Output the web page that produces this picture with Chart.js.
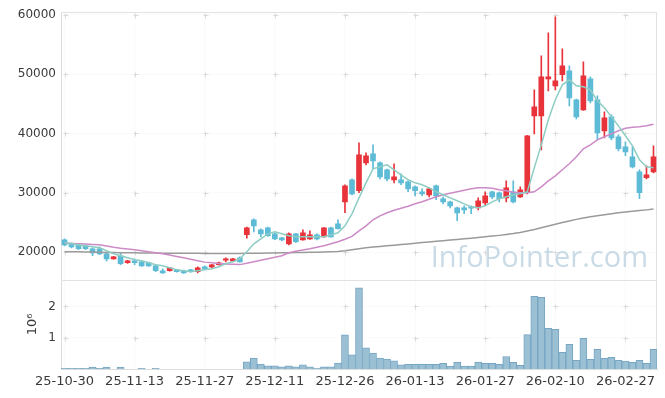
<!DOCTYPE html>
<html>
<head>
<meta charset="utf-8">
<script src="https://cdn.jsdelivr.net/npm/chart.js@4.4.1/dist/chart.umd.min.js"></script>
<style>
  html, body { margin: 0; padding: 0; background: #fff; }
  #wrap { width: 665px; height: 398px; }
</style>
</head>
<body>
<div id="wrap"><canvas id="chart" width="665" height="398"></canvas></div>
<script>
// trading days
var dates = [
  '25-10-30','25-10-31','25-11-03','25-11-04','25-11-05','25-11-06','25-11-07','25-11-10','25-11-11','25-11-12',
  '25-11-13','25-11-14','25-11-17','25-11-18','25-11-19','25-11-20','25-11-21','25-11-24','25-11-25','25-11-26',
  '25-11-27','25-11-28','25-12-01','25-12-02','25-12-03','25-12-04','25-12-05','25-12-08','25-12-09','25-12-10',
  '25-12-11','25-12-12','25-12-15','25-12-16','25-12-17','25-12-18','25-12-19','25-12-22','25-12-23','25-12-24',
  '25-12-26','25-12-29','25-12-30','26-01-02','26-01-05','26-01-06','26-01-07','26-01-08','26-01-09','26-01-12',
  '26-01-13','26-01-14','26-01-15','26-01-16','26-01-19','26-01-20','26-01-21','26-01-22','26-01-23','26-01-26',
  '26-01-27','26-01-28','26-01-29','26-01-30','26-02-02','26-02-03','26-02-04','26-02-05','26-02-06','26-02-09',
  '26-02-10','26-02-11','26-02-12','26-02-13','26-02-19','26-02-20','26-02-23','26-02-24','26-02-25','26-02-26',
  '26-02-27','26-03-03','26-03-04','26-03-05','26-03-06'
];

var open = [
  22070,21400,21230,21060,20560,20560,19710,18870,19380,18200,
  18530,18370,18200,17690,16850,16850,17010,16850,17010,16680,
  17520,17520,17860,18620,18530,19040,22920,25450,23750,24100,
  23080,22410,21400,23080,22070,22240,22920,22580,24100,24770,
  28480,32190,30340,35050,36580,35050,33870,32190,32190,31850,
  31010,30170,29660,31180,28990,28480,27460,27460,27630,27460,
  28310,30170,30000,29150,30170,29320,30000,42980,42980,49220,
  48040,49900,50570,45680,43990,49210,45680,40450,42810,39440,
  37750,36070,33540,32530,33540
];
var high = [
  22240,21570,21400,21230,20720,20890,19880,19300,19880,18600,
  18870,18530,18300,17860,17200,17450,17100,16950,17100,17520,
  17690,17950,18300,19040,18950,19200,24200,25620,23920,24200,
  23200,22500,23250,23150,23760,23590,23080,24150,24200,25450,
  31350,32360,38420,36750,38090,35220,34000,34890,33200,32000,
  31180,30670,30840,31300,29320,28600,27600,27800,27800,29150,
  30170,30300,30100,32020,32020,31010,39700,47360,53100,56970,
  59670,54280,51420,45800,52080,49560,46350,43650,43140,39780,
  38600,37750,33880,34550,37920
];
var low = [
  21060,20720,20390,20390,19380,19550,18530,18800,17860,18100,
  17860,17600,17600,16700,16400,16800,16600,16400,16600,16510,
  17100,17350,17800,18360,18450,18300,22360,23420,22580,22650,
  22100,21900,21230,21570,22000,22150,22070,22500,22500,23850,
  26630,29660,30000,34720,34040,32360,32020,31680,31350,30170,
  29490,29490,29320,28820,28140,27460,25280,26460,26460,27130,
  27970,29000,28480,28480,28300,29200,29830,39940,37250,47190,
  47360,48880,44660,42470,43900,45170,38930,39270,38930,37080,
  36240,34210,28990,32360,33370
];
var close = [
  21230,20890,20560,20560,19880,19710,18870,19210,18030,18530,
  18200,17690,17690,16850,16510,17350,16680,16510,16680,17350,
  17180,17860,18200,18850,18870,18360,24100,24430,23080,22750,
  22240,22070,23080,21740,23250,22920,22240,24100,22580,23930,
  31180,29830,36410,36240,35390,32690,32360,32700,31680,30670,
  30340,29830,30670,29490,28480,27800,26620,27130,27400,28650,
  29490,29320,28990,30840,28480,30500,39610,44500,49560,49560,
  48880,51420,46010,42810,49720,45510,40110,42640,39270,37420,
  36910,34380,30000,33030,36070
];
var volume = [
  25000,25000,25000,25000,60000,25000,60000,0,60000,0,
  0,25000,0,25000,0,0,0,0,0,0,
  0,0,0,0,0,0,230000,350000,160000,100000,
  100000,70000,100000,70000,130000,70000,30000,70000,70000,190000,
  1090000,450000,2590000,680000,510000,350000,320000,260000,130000,150000,
  150000,150000,150000,150000,180000,90000,210000,90000,90000,220000,
  180000,180000,150000,400000,210000,120000,1100000,2320000,2290000,1300000,
  1270000,530000,790000,280000,980000,310000,630000,340000,370000,280000,
  250000,210000,280000,180000,630000
];
// moving averages
var ma5 = [
  21570,21400,21230,21060,20890,20720,20220,19710,19380,19040,
  18700,18530,18200,17860,17690,17350,17010,16850,16680,16850,
  17010,17180,17520,18030,18360,18870,20050,21400,22240,23080,
  23420,23080,22750,22580,22580,22580,22580,22580,22920,23250,
  24430,26460,29150,31680,34040,34380,34720,33870,33030,32190,
  31680,31350,30840,30170,29660,29150,28650,28140,27630,27460,
  27800,28480,28990,29320,29660,29830,30170,34200,38090,42300,
  45680,48200,49050,48040,47870,47360,45510,44330,42810,41290,
  39610,37920,35560,34380,34210
];
var ma20 = [
  21520,21470,21400,21350,21280,21230,21030,20830,20660,20520,
  20390,20220,20050,19880,19710,19510,19270,19040,18790,18530,
  18310,18200,18060,17980,17940,17890,18110,18360,18620,18870,
  19120,19380,19880,20130,20340,20560,20810,21060,21400,21740,
  22160,22660,23590,24430,25450,26120,26630,27050,27380,27720,
  28140,28480,28900,29320,29660,29910,30170,30420,30670,30840,
  30840,30760,30500,30340,30080,30000,30000,30170,31010,32020,
  32860,33880,34890,36070,37420,38090,38930,39440,39940,40450,
  40870,41040,41120,41290,41550
];
var ma60 = [
  20050,20050,20050,20020,20000,19980,19950,19920,19900,19880,
  19870,19850,19840,19830,19820,19810,19800,19800,19790,19790,
  19780,19780,19780,19780,19780,19780,19790,19800,19820,19840,
  19860,19880,19900,19920,19940,19960,19990,20020,20060,20110,
  20220,20390,20560,20720,20850,20950,21060,21170,21270,21380,
  21480,21600,21700,21820,21920,22040,22140,22250,22350,22460,
  22580,22700,22820,22960,23120,23320,23550,23800,24100,24400,
  24700,24980,25250,25520,25760,25950,26130,26300,26460,26620,
  26780,26900,27010,27120,27250
];
var yTicks = [20000, 30000, 40000, 50000, 60000];
var volTicks = [1000000, 2000000];

var UP = '#e8333b';
var DOWN = '#5dbbd6';

var bodies = [], wicks = [], colors = [];
for (var i = 0; i < dates.length; i++) {
  bodies.push([open[i], close[i]]);
  wicks.push([low[i], high[i]]);
  colors.push(close[i] >= open[i] ? UP : DOWN);
}

// frame, grid crosses and watermark
var framePlugin = {
  id: 'frame',
  beforeDatasetsDraw: function (chart) {
    var ctx = chart.ctx, a = chart.chartArea, sx = chart.scales.x, sy = chart.scales.y, sv = chart.scales.yv;
    var yb = sy.bottom;
    ctx.save();
    ctx.font = '29px "Open Sans"';
    ctx.fillStyle = '#c9dbe6';
    ctx.textAlign = 'right';
    ctx.textBaseline = 'alphabetic';
    ctx.fillText('InfoPointer.com', a.right - 9, yb - 13);

    ctx.strokeStyle = '#e2e2e2';
    ctx.lineWidth = 1;
    ctx.beginPath();
    ctx.moveTo(a.left, Math.round(a.top) + 0.5);
    ctx.lineTo(a.right, Math.round(a.top) + 0.5);
    ctx.moveTo(Math.round(a.right) - 0.5, a.top);
    ctx.lineTo(Math.round(a.right) - 0.5, a.bottom);
    ctx.moveTo(a.left, Math.round(yb) + 0.5);
    ctx.lineTo(a.right, Math.round(yb) + 0.5);
    ctx.stroke();

    var ys = [];
    yTicks.forEach(function (v) { ys.push(sy.getPixelForValue(v)); });
    volTicks.forEach(function (v) { ys.push(sv.getPixelForValue(v)); });
    ctx.strokeStyle = '#dadada';
    ctx.beginPath();
    for (var k = 0; k < dates.length; k += 10) {
      var px = Math.round(sx.getPixelForValue(k)) + 0.5;
      ys.forEach(function (py) {
        py = Math.round(py) + 0.5;
        ctx.moveTo(px - 2, py); ctx.lineTo(px + 3, py);
        ctx.moveTo(px, py - 2); ctx.lineTo(px, py + 3);
      });
    }
    ctx.stroke();
    ctx.restore();
  }
};

Chart.defaults.font.family = '"DejaVu Sans", sans-serif';
Chart.defaults.color = '#3a3a3a';

var ctx = document.getElementById('chart').getContext('2d');
new Chart(ctx, {
  type: 'bar',
  data: {
    labels: dates,
    datasets: [
      { type: 'line', data: ma5, borderColor: '#8dcdc3', borderWidth: 1.5, pointRadius: 0, yAxisID: 'y', order: 0 },
      { type: 'line', data: ma20, borderColor: '#cc8ac7', borderWidth: 1.5, pointRadius: 0, yAxisID: 'y', order: 0 },
      { type: 'line', data: ma60, borderColor: '#9a9a9a', borderWidth: 1.5, pointRadius: 0, yAxisID: 'y', order: 0 },
      { data: bodies, backgroundColor: colors, barThickness: 5, minBarLength: 1, grouped: false, yAxisID: 'y', order: 1 },
      { data: wicks, backgroundColor: colors, barThickness: 1, grouped: false, yAxisID: 'y', order: 2 },
      { data: volume, backgroundColor: '#9bc0d4', borderColor: '#76a6c3', borderWidth: 1,
        barPercentage: 1, categoryPercentage: 1, grouped: false, yAxisID: 'yv', order: 3 }
    ]
  },
  options: {
    responsive: false,
    animation: false,
    layout: { padding: { top: 12, right: 8, left: 0, bottom: 0 } },
    plugins: { legend: { display: false }, tooltip: { enabled: false } },
    scales: {
      x: {
        offset: true,
        grid: { offset: false, color: 'rgba(0,0,0,0.02)', drawTicks: false },
        border: { color: '#dcdcdc' },
        ticks: {
          autoSkip: false, maxRotation: 0, padding: 5, font: { size: 13 },
          callback: function (v, i) { return i % 10 === 0 ? dates[i] : null; }
        },
        afterFit: function (s) { s.height = 29; }
      },
      yv: {
        position: 'left', stack: 'panes', stackWeight: 1,
        min: 0, max: 2850000,
        grid: { color: 'rgba(0,0,0,0.02)', drawTicks: false },
        border: { color: '#dcdcdc' },
        title: { display: true, text: '10⁶', font: { size: 13 }, padding: { top: 25, bottom: 0 } },
        ticks: {
          padding: 5, font: { size: 12 },
          callback: function (v) { return String(v / 1000000); }
        },
        afterBuildTicks: function (s) { s.ticks = volTicks.map(function (v) { return { value: v }; }); },
        afterFit: function (s) { s.width = 61; }
      },
      y: {
        position: 'left', stack: 'panes', stackWeight: 3,
        min: 15330, max: 60450,
        grid: { color: 'rgba(0,0,0,0.02)', drawTicks: false },
        border: { color: '#dcdcdc' },
        ticks: {
          padding: 5, font: { size: 12 },
          callback: function (v) { return String(v); }
        },
        afterBuildTicks: function (s) { s.ticks = yTicks.map(function (v) { return { value: v }; }); },
        afterFit: function (s) { s.width = 61; }
      }
    }
  },
  plugins: [framePlugin]
});
</script>
</body>
</html>
